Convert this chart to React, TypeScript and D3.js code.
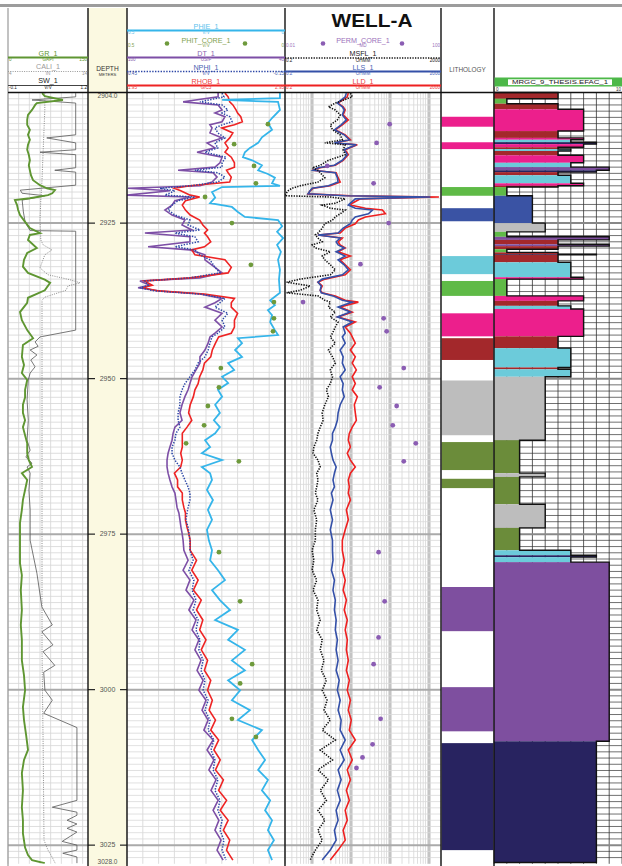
import React from 'react';
import * as d3 from 'd3';

// ---- log values ----
const GR: [number, number][] = [
  [2904.1, 64], [2904.6, 69], [2905.2, 103], [2905.7, 54], [2906.0, 51], [2906.8, 45], [2907.6, 37.5], [2908.4, 36],
  [2909.2, 36], [2910.0, 41], [2910.8, 37.5], [2911.6, 41], [2912.4, 37.5], [2913.2, 36], [2914.0, 39], [2914.9, 41],
  [2915.7, 39], [2916.5, 41], [2917.3, 43], [2918.1, 47], [2918.9, 60], [2919.4, 73], [2919.7, 88], [2920.2, 83],
  [2920.5, 75], [2921.0, 41], [2921.3, 13], [2922.1, 17], [2922.9, 19], [2923.7, 22.5], [2924.8, 32], [2925.8, 41],
  [2926.6, 60], [2926.9, 41], [2927.7, 37.5], [2929.0, 54], [2929.8, 36], [2930.9, 30], [2932.0, 28], [2933.0, 37.5],
  [2934.1, 69], [2934.6, 79], [2935.8, 69], [2937.0, 37.5], [2937.8, 36], [2939.3, 22.5], [2940.6, 26], [2942.2, 36],
  [2943.5, 47], [2944.6, 28], [2946.5, 26], [2947.8, 30], [2949.1, 26], [2950.2, 36], [2951.8, 32], [2953.0, 32],
  [2954.2, 28], [2955.5, 28], [2956.7, 32], [2957.8, 28], [2959.1, 32], [2960.4, 36], [2962.0, 36], [2963.1, 39],
  [2964.2, 45], [2965.2, 26], [2966.3, 36], [2967.9, 32], [2969.5, 28], [2971.1, 26], [2973.2, 22.5], [2976.0, 22.5],
  [2979.7, 22.5], [2981.6, 26], [2984.0, 24], [2987.2, 26], [2989.6, 24], [2992.0, 26], [2995.3, 26], [2997.7, 30],
  [3000.1, 32], [3002.8, 28], [3004.9, 30], [3007.3, 34], [3009.7, 37.5], [3011.3, 30], [3013.4, 26], [3016.2, 28],
  [3018.9, 26], [3021.0, 28], [3023.1, 28], [3025.4, 32], [3026.6, 37.5], [3027.4, 45], [3027.9, 69],
];

const CALI: [number, number][] = [
  [2904.1, 8.6], [2906.8, 8.6], [2910.0, 8.5], [2913.2, 8.4], [2918.1, 8.25], [2921.3, 8.1], [2924.5, 8.0],
  [2927.7, 8.1], [2928.5, 8.4], [2929.3, 9.5], [2930.1, 8.6], [2932.2, 8.0], [2933.3, 9.0], [2934.1, 11.75],
  [2934.6, 13.0], [2935.1, 11.5], [2935.8, 11.25], [2936.9, 8.6], [2937.4, 8.25], [2945.4, 8.25], [2961.5, 8.25],
  [2977.6, 8.25], [2993.6, 8.25], [3009.7, 8.4], [3024.2, 8.5], [3025.8, 9.0], [3026.9, 9.5], [3027.9, 9.9],
];

const SW: [number, number][] = [
  [2904.1, 1.0], [2904.7, 1.0], [2905.2, 0.29], [2905.7, 1.0], [2910.8, 1.0], [2911.3, 0.53], [2912.1, 1.0],
  [2913.2, 1.0], [2913.6, 0.42], [2914.0, 1.0], [2916.1, 1.0], [2916.5, 0.66], [2916.8, 1.0], [2918.9, 1.0],
  [2919.7, 0.10], [2920.2, 0.13], [2920.6, 0.50], [2921.3, 0.13], [2923.2, 0.15], [2924.9, 0.18], [2926.2, 0.26],
  [2926.3, 1.0], [2942.2, 1.0], [2943.3, 0.42], [2944.1, 0.34], [2944.8, 0.39], [2945.4, 0.26], [2946.2, 0.37],
  [2947.0, 0.27], [2948.1, 0.34], [2949.1, 0.26], [2950.2, 0.23], [2953.4, 0.21], [2956.7, 0.23], [2959.9, 0.21],
  [2961.5, 0.26], [2962.6, 0.19], [2963.6, 0.29], [2964.2, 0.21], [2965.2, 0.26], [2967.9, 0.24], [2971.1, 0.26],
  [2976.0, 0.26], [2981.3, 0.37], [2986.7, 0.45], [2989.6, 0.62], [2990.7, 0.45], [2992.8, 0.63], [2993.9, 0.47],
  [2996.1, 0.66], [2997.2, 0.48], [3000.1, 0.50], [3001.7, 0.62], [3003.8, 0.48], [3006.1, 1.02], [3017.8, 1.02],
  [3018.9, 0.62], [3019.7, 1.02], [3020.2, 1.02], [3021.0, 0.86], [3021.6, 1.02], [3022.3, 0.86], [3022.9, 1.02],
  [3024.4, 0.78], [3025.0, 1.02], [3025.8, 1.02], [3026.3, 0.79], [3026.9, 1.02], [3027.9, 1.02],
];

// track 2 curves share one depth list
const T2_DEPTH = [
  2904.1, 2904.7, 2905.5, 2906.0, 2906.8, 2907.3, 2907.9, 2908.7, 2909.2, 2909.7,
  2910.5, 2911.3, 2912.1, 2912.9, 2913.6, 2914.4, 2915.3, 2916.0, 2916.5, 2916.9,
  2917.6, 2918.4, 2919.0, 2919.4, 2919.8, 2920.5, 2920.8, 2921.4, 2922.1, 2922.9,
  2923.7, 2924.5, 2925.3, 2926.1, 2926.6, 2927.2, 2928.0, 2928.8, 2929.3, 2930.1,
  2930.9, 2932.1, 2933.0, 2933.8, 2934.3, 2935.0, 2935.4, 2935.9, 2936.4, 2937.1,
  2937.8, 2938.5, 2939.5, 2940.6, 2941.7, 2942.7, 2943.3, 2944.3, 2945.4, 2946.5,
  2947.5, 2948.6, 2949.7, 2950.8, 2951.8, 2952.9, 2954.2, 2955.5, 2956.7, 2957.8,
  2958.8, 2959.9, 2961.0, 2962.0, 2963.1, 2964.2, 2965.2, 2966.3, 2967.4, 2968.4,
  2969.5, 2970.7, 2971.6, 2972.7, 2973.9, 2974.8, 2976.0, 2977.6, 2979.2, 2980.8,
  2982.4, 2984.0, 2985.6, 2987.2, 2988.8, 2990.4, 2992.0, 2993.6, 2995.3, 2996.9,
  2998.5, 3000.1, 3001.7, 3003.3, 3004.9, 3006.5, 3008.1, 3009.7, 3011.3, 3012.9,
  3014.5, 3016.2, 3017.8, 3019.4, 3021.0, 3022.6, 3024.2, 3025.8, 3027.4,
];
const DT = [
  65.4, 65.4, 78.7, 65.4, 63.9, 66.6, 62.8, 63.9, 68.5, 67.7,
  68.5, 63.9, 69.6, 66.6, 73.4, 63.9, 64.7, 66.6, 80.6, 67.3,
  65.8, 67.7, 72.3, 99.6, 83.7, 100, 76.1, 81.8, 82.9, 85.6,
  82.9, 78.0, 79.1, 75.3, 93.2, 76.1, 76.1, 92.0, 76.1, 70.4,
  70.4, 66.6, 63.9, 72.3, 95.1, 91.3, 95.8, 87.5, 72.3, 63.9,
  66.6, 70.4, 63.9, 66.6, 63.9, 66.6, 68.5, 69.2, 70.4, 72.3,
  72.3, 73.8, 75.3, 76.1, 76.8, 78.0, 79.1, 79.9, 79.1, 81.8,
  82.5, 82.9, 83.7, 84.4, 84.8, 84.8, 84.4, 83.7, 82.9, 81.8,
  81.4, 81.0, 80.3, 79.9, 79.5, 79.1, 78.7, 78.4, 76.8, 78.7,
  76.1, 77.6, 74.6, 76.5, 73.8, 75.3, 72.7, 74.2, 71.9, 73.4,
  71.1, 72.7, 70.0, 71.5, 69.2, 70.8, 67.3, 69.6, 67.0, 68.9,
  66.2, 68.1, 65.4, 67.3, 65.1, 66.6, 64.3, 65.8, 63.5,
];
const NPHI = [
  0.089, 0.082, 0.173, 0.089, 0.067, 0.089, 0.059, 0.051, 0.089, 0.116,
  0.105, 0.078, 0.116, 0.105, 0.154, 0.074, 0.089, 0.089, 0.192, 0.105,
  0.078, 0.105, 0.211, 0.325, 0.268, 0.306, 0.192, 0.256, 0.279, 0.294,
  0.268, 0.211, 0.218, 0.173, 0.268, 0.192, 0.180, 0.268, 0.192, 0.173,
  0.135, 0.116, 0.097, 0.211, 0.382, 0.370, 0.401, 0.344, 0.173, 0.078,
  0.097, 0.116, 0.067, 0.089, 0.078, 0.105, 0.127, 0.135, 0.142, 0.154,
  0.180, 0.192, 0.211, 0.230, 0.241, 0.249, 0.249, 0.256, 0.256, 0.249,
  0.264, 0.268, 0.279, 0.279, 0.268, 0.249, 0.241, 0.230, 0.218, 0.211,
  0.211, 0.218, 0.222, 0.226, 0.218, 0.215, 0.211, 0.211, 0.199, 0.215,
  0.196, 0.203, 0.188, 0.199, 0.180, 0.188, 0.173, 0.177, 0.161, 0.169,
  0.154, 0.161, 0.142, 0.154, 0.135, 0.142, 0.120, 0.131, 0.116, 0.123,
  0.105, 0.116, 0.097, 0.105, 0.089, 0.097, 0.082, 0.089, 0.074,
];
const RHOB = [
  2.57, 2.59, 2.60, 2.62, 2.64, 2.65, 2.67, 2.68, 2.63, 2.55,
  2.62, 2.60, 2.57, 2.59, 2.57, 2.61, 2.63, 2.63, 2.58, 2.59,
  2.61, 2.60, 2.35, 2.25, 2.29, 2.35, 2.41, 2.32, 2.30, 2.32,
  2.35, 2.41, 2.43, 2.46, 2.44, 2.46, 2.48, 2.44, 2.36, 2.38,
  2.57, 2.61, 2.59, 2.35, 2.06, 2.11, 2.05, 2.15, 2.44, 2.63,
  2.61, 2.61, 2.65, 2.63, 2.63, 2.61, 2.53, 2.51, 2.49, 2.48,
  2.44, 2.43, 2.41, 2.40, 2.38, 2.37, 2.35, 2.34, 2.36, 2.33,
  2.30, 2.30, 2.30, 2.29, 2.30, 2.29, 2.25, 2.27, 2.27, 2.30,
  2.30, 2.31, 2.32, 2.32, 2.33, 2.34, 2.35, 2.35, 2.39, 2.36,
  2.40, 2.37, 2.42, 2.39, 2.43, 2.41, 2.45, 2.42, 2.46, 2.44,
  2.48, 2.46, 2.49, 2.47, 2.51, 2.48, 2.53, 2.50, 2.54, 2.51,
  2.56, 2.53, 2.58, 2.54, 2.59, 2.56, 2.60, 2.58, 2.62,
];

const PHIE: [number, number][] = [
  [2904.1, 0.016], [2904.9, 0.016], [2905.2, 0.199], [2905.5, 0.022], [2906.8, 0.016], [2908.1, 0.041],
  [2908.9, 0.054], [2910.0, 0.041], [2911.2, 0.073], [2912.1, 0.085], [2912.9, 0.111], [2913.6, 0.127],
  [2914.4, 0.133], [2914.9, 0.104], [2915.7, 0.073], [2916.5, 0.085], [2917.1, 0.054], [2917.7, 0.032],
  [2918.6, 0.041], [2919.0, 0.016], [2919.2, 0.199], [2920.0, 0.231], [2920.9, 0.221], [2921.8, 0.237],
  [2922.4, 0.168], [2923.2, 0.149], [2924.0, 0.127], [2924.5, 0.022], [2925.5, 0.009], [2926.4, 0.025],
  [2927.4, 0.006], [2928.5, 0.025], [2929.6, 0.013], [2930.9, 0.022], [2932.5, 0.016], [2934.1, 0.019],
  [2936.2, 0.016], [2937.4, 0.047], [2938.2, 0.032], [2939.0, 0.054], [2939.8, 0.041], [2940.9, 0.047],
  [2942.2, 0.032], [2943.0, 0.022], [2943.5, 0.149], [2944.3, 0.136], [2945.4, 0.158], [2946.5, 0.136],
  [2947.5, 0.180], [2948.6, 0.161], [2949.7, 0.199], [2950.7, 0.180], [2951.8, 0.212], [2952.9, 0.199],
  [2954.2, 0.221], [2955.5, 0.206], [2956.7, 0.225], [2957.8, 0.206], [2958.8, 0.221], [2959.9, 0.253],
  [2961.0, 0.237], [2962.0, 0.263], [2963.1, 0.199], [2964.2, 0.263], [2965.2, 0.237], [2966.3, 0.231],
  [2967.9, 0.247], [2969.5, 0.228], [2971.1, 0.244], [2972.7, 0.231], [2974.3, 0.247], [2976.0, 0.241],
  [2977.6, 0.231], [2979.2, 0.237], [2980.8, 0.212], [2982.4, 0.190], [2984.0, 0.231], [2985.6, 0.206],
  [2987.2, 0.174], [2988.8, 0.221], [2990.4, 0.149], [2992.0, 0.180], [2993.6, 0.127], [2995.3, 0.168],
  [2996.9, 0.127], [2998.5, 0.180], [3000.1, 0.142], [3001.7, 0.168], [3003.3, 0.111], [3004.9, 0.149],
  [3006.5, 0.073], [3008.1, 0.104], [3009.7, 0.085], [3011.3, 0.063], [3012.9, 0.085], [3014.5, 0.054],
  [3016.2, 0.073], [3017.8, 0.047], [3019.4, 0.063], [3021.0, 0.041], [3022.6, 0.054], [3024.2, 0.035],
  [3025.8, 0.054], [3027.4, 0.041],
];

const PHIT_CORE: [number, number][] = [
  [2909.1, 0.054], [2912.3, 0.161], [2915.8, 0.098], [2918.6, 0.092], [2920.8, 0.253], [2925.0, 0.168],
  [2931.7, 0.108], [2937.7, 0.035], [2940.3, 0.035], [2942.4, 0.038], [2948.3, 0.203], [2951.4, 0.209],
  [2954.4, 0.244], [2957.5, 0.256], [2960.4, 0.313], [2963.3, 0.146], [2977.9, 0.209], [2985.8, 0.142],
  [2995.9, 0.104], [2999.0, 0.142], [3004.7, 0.168], [3007.6, 0.092],
];

// track 3 resistivity curves share one depth list
const T3_DEPTH = [
  2904.1, 2904.7, 2905.7, 2906.3, 2906.8, 2907.6, 2908.4, 2909.2, 2910.0, 2910.8,
  2911.6, 2912.1, 2912.4, 2913.2, 2914.0, 2914.9, 2915.7, 2916.1, 2916.5, 2916.9,
  2917.7, 2918.4, 2919.0, 2919.4, 2919.8, 2920.3, 2920.6, 2920.8, 2921.1, 2921.8,
  2922.1, 2922.6, 2922.9, 2923.5, 2924.0, 2924.5, 2925.1, 2925.8, 2926.6, 2926.9,
  2927.4, 2928.0, 2928.5, 2929.0, 2929.6, 2930.3, 2930.9, 2931.7, 2932.5, 2933.3,
  2934.0, 2934.5, 2935.1, 2935.8, 2936.2, 2936.7, 2937.4, 2937.7, 2938.5, 2939.3,
  2940.1, 2940.9, 2941.7, 2942.7, 2943.3, 2944.3, 2945.4, 2946.5, 2947.5, 2948.6,
  2949.7, 2950.8, 2951.8, 2952.9, 2954.2, 2955.5, 2956.7, 2957.8, 2958.8, 2959.9,
  2961.0, 2962.0, 2963.1, 2964.2, 2965.2, 2966.3, 2967.4, 2968.4, 2969.5, 2971.1,
  2972.7, 2974.3, 2976.0, 2977.6, 2979.2, 2980.8, 2982.4, 2984.0, 2985.6, 2987.2,
  2988.8, 2990.4, 2992.0, 2993.6, 2995.3, 2996.9, 2998.5, 3000.1, 3001.7, 3003.3,
  3004.9, 3006.5, 3008.1, 3009.7, 3011.3, 3012.9, 3014.5, 3016.2, 3017.8, 3019.4,
  3021.0, 3022.6, 3024.2, 3025.8, 3027.4,
];
const LLD = [
  8.4, 7.9, 4.6, 6.2, 7.0, 6.2, 8.4, 5.9, 3.9, 7.0,
  9.5, 3.9, 14.3, 7.0, 8.4, 6.2, 3.9, 1.6, 1.0, 4.1,
  4.6, 5.2, 2.9, 1.05, 0.88, 0.78, 9.5, 1770, 17.1, 10.6,
  9.5, 23.1, 63, 75, 23.1, 15.2, 12.7, 7.0, 5.2, 1.4,
  5.9, 4.6, 5.2, 7.0, 4.6, 9.5, 5.2, 7.0, 9.5, 7.0,
  2.1, 1.4, 1.8, 1.6, 1.8, 3.9, 7.0, 15.2, 5.2, 10.6,
  4.6, 12.7, 7.0, 9.5, 10.6, 12.7, 9.5, 12.7, 10.6, 13.5,
  10.6, 12.7, 10.6, 14.3, 12.0, 12.7, 13.5, 10.6, 8.9, 8.4,
  9.5, 7.9, 9.5, 12.7, 9.5, 8.4, 8.9, 8.4, 9.5, 7.5,
  8.4, 7.0, 5.9, 5.9, 6.6, 5.9, 7.0, 6.2, 7.5, 6.6,
  7.9, 7.0, 7.9, 7.5, 8.4, 7.5, 8.9, 7.9, 9.5, 8.4,
  10.0, 8.9, 12.7, 8.4, 10.6, 7.9, 9.5, 7.5, 8.9, 7.0,
  7.9, 6.2, 7.0, 4.6, 2.9,
];
const LLS = [
  7.5, 7.0, 4.4, 5.9, 6.6, 5.9, 7.5, 5.5, 3.7, 6.6,
  8.9, 3.7, 13.5, 6.6, 7.9, 5.9, 3.7, 1.4, 1.05, 3.9,
  4.4, 4.6, 2.6, 1.0, 0.88, 0.78, 7.0, 1070, 12.7, 9.5,
  8.4, 12.7, 35, 27.5, 12.7, 10.6, 9.5, 6.2, 4.6, 1.4,
  5.2, 4.1, 4.6, 6.6, 4.1, 7.0, 4.6, 6.6, 8.4, 5.9,
  1.8, 1.4, 1.7, 1.6, 1.7, 3.4, 5.9, 10.6, 4.6, 9.5,
  4.4, 10.6, 6.2, 7.0, 5.9, 7.0, 5.2, 6.2, 5.9, 7.0,
  5.2, 6.2, 5.9, 6.6, 5.2, 4.6, 4.4, 3.9, 3.3, 3.3,
  2.9, 3.1, 3.4, 4.1, 3.7, 3.4, 3.7, 3.1, 3.4, 2.9,
  3.3, 2.9, 3.3, 3.3, 3.4, 3.1, 3.7, 3.4, 3.9, 3.7,
  4.1, 3.9, 4.4, 4.1, 4.6, 4.1, 4.9, 4.4, 5.2, 4.6,
  5.5, 5.2, 7.0, 5.2, 6.6, 4.6, 5.5, 4.4, 5.2, 4.1,
  4.6, 3.7, 4.1, 2.9, 1.8,
];
const MSFL = [
  9.5, 10.6, 3.9, 2.6, 3.9, 5.2, 4.4, 2.9, 3.3, 5.2,
  5.9, 2.1, 7.0, 6.2, 7.0, 2.6, 1.6, 1.0, 1.4, 1.6,
  2.1, 1.4, 0.49, 0.30, 0.24, 0.21, 0.20, 2.9, 7.0, 3.9,
  1.8, 2.9, 7.0, 5.2, 3.9, 3.3, 2.1, 1.8, 1.4, 1.2,
  1.4, 1.8, 1.0, 1.2, 2.9, 1.8, 2.1, 2.9, 3.9, 2.9,
  0.49, 0.22, 0.88, 0.49, 0.22, 1.4, 2.1, 2.9, 2.6, 3.9,
  2.9, 4.6, 3.9, 3.3, 2.9, 3.9, 2.6, 3.3, 3.9, 2.9,
  3.3, 2.9, 2.3, 2.6, 2.1, 1.8, 1.9, 1.6, 1.4, 1.3,
  1.1, 1.05, 1.4, 1.6, 1.3, 1.4, 1.3, 1.2, 1.4, 1.1,
  1.3, 1.2, 1.2, 0.99, 1.1, 0.99, 1.3, 1.05, 1.4, 1.3,
  1.6, 1.3, 1.8, 1.6, 2.0, 1.7, 2.3, 1.8, 2.4, 2.0,
  2.9, 1.8, 3.9, 1.6, 3.3, 1.4, 2.6, 1.6, 2.3, 1.4,
  2.1, 1.4, 1.8, 1.2, 0.88,
];

const PERM_CORE: [number, number][] = [
  [2909.1, 4.83], [2912.1, 2.23], [2915.8, 0.121], [2918.6, 1.87], [2925.0, 4.55], [2931.6, 0.86],
  [2937.7, 0.029], [2940.3, 3.38], [2942.4, 4.04], [2948.3, 11.1], [2951.4, 2.67], [2954.4, 7.3],
  [2957.5, 5.8], [2960.4, 22.6], [2963.3, 11.1], [2977.9, 2.51], [2985.8, 3.59], [2991.6, 2.51],
  [2995.9, 1.87], [3004.7, 2.83], [3008.8, 1.76], [3010.9, 0.97], [3012.6, 0.68],
];

// [top, base, facies code]
const LITHOLOGY: [number, number, number][] = [
  [2907.9, 2909.5, 7], [2912.0, 2913.1, 7], [2919.2, 2920.6, 1], [2922.6, 2924.7, 3], [2930.3, 2933.2, 6],
  [2934.3, 2936.7, 1], [2939.5, 2943.2, 7], [2943.5, 2947.0, 5], [2950.3, 2959.1, 4], [2960.2, 2964.7, 2],
  [2966.1, 2967.6, 2], [2983.5, 2990.6, 9], [2999.6, 3006.7, 9], [3008.6, 3025.8, 8],
];

const FACIES: [number, number, number][] = [
  [2904.0, 2905.0, 5], [2905.0, 2905.8, 1], [2905.8, 2906.7, 5], [2906.7, 2910.2, 7], [2910.2, 2911.3, 5],
  [2911.3, 2911.6, 7], [2911.6, 2912.0, 6], [2912.0, 2912.3, 8], [2912.3, 2912.8, 7], [2912.8, 2913.1, 5],
  [2913.1, 2913.4, 6], [2913.4, 2914.1, 5], [2914.1, 2915.3, 7], [2915.3, 2916.0, 6], [2916.0, 2916.5, 9],
  [2916.5, 2916.8, 8], [2916.8, 2917.3, 5], [2917.3, 2918.6, 6], [2918.6, 2919.0, 7], [2919.0, 2919.2, 5],
  [2919.2, 2920.6, 1], [2920.6, 2925.0, 3], [2925.0, 2926.4, 4], [2926.4, 2927.2, 1], [2927.2, 2927.7, 9],
  [2927.7, 2928.4, 5], [2928.4, 2928.7, 9], [2928.7, 2929.2, 5], [2929.2, 2929.7, 1], [2929.7, 2930.0, 5],
  [2930.0, 2930.1, 8], [2930.1, 2931.3, 5], [2931.3, 2933.7, 6], [2933.7, 2934.0, 7], [2934.0, 2936.7, 1],
  [2936.7, 2937.5, 7], [2937.5, 2938.3, 5], [2938.3, 2938.8, 6], [2938.8, 2943.2, 7], [2943.2, 2945.1, 5],
  [2945.1, 2948.2, 6], [2948.2, 2948.5, 5], [2948.5, 2949.7, 6], [2949.7, 2959.9, 4], [2959.9, 2965.2, 2],
  [2965.2, 2965.8, 4], [2965.8, 2970.2, 2], [2970.2, 2974.0, 4], [2974.0, 2977.6, 2], [2977.6, 2978.4, 6],
  [2978.4, 2978.7, 8], [2978.7, 2979.5, 6], [2979.5, 3008.3, 9], [3008.3, 3027.8, 8],
];

const FACIES_COLORS: Record<number, string> = {
  1: '#5fba47', 2: '#6b8c3a', 3: '#3a53a4', 4: '#bdbdbd', 5: '#a3282b',
  6: '#6ccbda', 7: '#ec1f8c', 8: '#282360', 9: '#7e4f9f',
};

const DEPTH_LABELS = [2925, 2950, 2975, 3000, 3025];

const FONT = 'Liberation Sans, Arial, sans-serif';

function CurveHeader({ x0, x1, name, color, textColor, yName, yLine, width, dash, left, unit, right, dots }: any) {
  const cx = (x0 + x1) / 2;
  const ys = yLine + 3.6;
  return (
    <g fontFamily={FONT}>
      <text x={cx} y={yName} fontSize={7.2} textAnchor="middle" fill={textColor || color}>{name}</text>
      {dots ? (
        dots.map((dx: number, i: number) => <circle key={i} cx={dx} cy={yLine} r={2.3} fill={color} />)
      ) : (
        <line x1={x0} x2={x1} y1={yLine} y2={yLine} stroke={color} strokeWidth={width} strokeDasharray={dash} />
      )}
      <text x={x0 + 1} y={ys} fontSize={4.6} fill={textColor || color}>{left}</text>
      <text x={cx} y={ys} fontSize={4.6} textAnchor="middle" fill={textColor || color}>{unit}</text>
      <text x={x1 - 1} y={ys} fontSize={4.6} textAnchor="end" fill={textColor || color}>{right}</text>
    </g>
  );
}

export default function App() {
  const W = 622;
  const H = 866;
  const top = 92.5;
  const bot = 863.8;
  const y = d3.scaleLinear().domain([2904, 3028]).range([top, bot]);

  const grX = d3.scaleLinear().domain([0, 150]).range([8, 88]);
  const caliX = d3.scaleLinear().domain([4, 14]).range([8, 88]);
  const swX = d3.scaleLinear().domain([-0.1, 1.2]).range([8, 88]);
  const phiX = d3.scaleLinear().domain([0.5, 0]).range([127, 285]);
  const dtX = d3.scaleLinear().domain([100, 40]).range([127, 285]);
  const nphiX = d3.scaleLinear().domain([0.45, -0.15]).range([127, 285]);
  const rhobX = d3.scaleLinear().domain([1.95, 2.95]).range([127, 285]);
  const resX = d3.scaleLog().domain([0.2, 2000]).range([285, 441]);
  const permX = d3.scaleLog().domain([0.01, 100]).range([285, 441]);
  const facX = d3.scaleLinear().domain([0, 10]).range([494, 622]);

  const path = (pts: [number, number][], sx: any) =>
    d3.line<[number, number]>().x(d => sx(d[1])).y(d => y(d[0]))(pts) || '';
  const zip = (depths: number[], vals: number[]) => depths.map((d, i) => [d, vals[i]] as [number, number]);

  const minorDepths = d3.range(2905, 3028).filter(d => d % 25 !== 0);

  const hLines = (x0: number, x1: number, color: string, w: number) =>
    minorDepths.map(d => <line key={'h' + x0 + d} x1={x0} x2={x1} y1={y(d)} y2={y(d)} stroke={color} strokeWidth={w} />);
  const majorLines = (x0: number, x1: number, color: string) =>
    DEPTH_LABELS.map(d => <line key={'m' + x0 + d} x1={x0} x2={x1} y1={y(d)} y2={y(d)} stroke={color} strokeWidth={2} />);

  // facies outline
  const facPts: [number, number][] = [[facX(0), y(FACIES[0][0])]];
  FACIES.forEach(([t, b, c]) => {
    facPts.push([facX(c), y(t)]);
    facPts.push([facX(c), y(b)]);
  });
  facPts.push([facX(0), y(FACIES[FACIES.length - 1][1])]);
  const facOutline = d3.line()(facPts) || '';

  const borders = [88, 127, 285, 441, 494];

  return (
    <div style={{ position: 'absolute', left: 0, top: 0 }}>
      <svg width={W} height={H} style={{ display: 'block', background: '#fff' }}>
        <defs>
          <clipPath id="c1"><rect x={8} y={top} width={80} height={bot - top} /></clipPath>
          <clipPath id="c2"><rect x={127} y={top} width={158} height={bot - top} /></clipPath>
          <clipPath id="c3"><rect x={285} y={top} width={156} height={bot - top} /></clipPath>
        </defs>

        {/* depth track background */}
        <rect x={88} y={8} width={39} height={H - 8} fill="#fbf9e1" />

        {/* ---- grids ---- */}
        <g>
          {grX.ticks(10).map(v => (
            <line key={'g1' + v} x1={grX(v)} x2={grX(v)} y1={top} y2={bot} stroke="#d4d4d4" strokeWidth={0.8} />
          ))}
          {hLines(8, 88, '#d6d6d6', 0.8)}
          {phiX.ticks(10).map(v => (
            <line key={'g2' + v} x1={phiX(v)} x2={phiX(v)} y1={top} y2={bot} stroke="#d4d4d4" strokeWidth={0.8} />
          ))}
          {hLines(127, 285, '#d9d9d9', 0.8)}
          {resX.ticks().map(v => (
            <line key={'g3' + v} x1={resX(v)} x2={resX(v)} y1={top} y2={bot} stroke="#d6d6d6" strokeWidth={0.8} />
          ))}
          {[1, 10, 100, 1000].map(v => (
            <line key={'gd' + v} x1={resX(v)} x2={resX(v)} y1={top} y2={bot} stroke="#c4c4c4" strokeWidth={2.6} />
          ))}
          {hLines(285, 441, '#d9d9d9', 0.8)}
          {facX.ticks(10).map(v => (
            <line key={'g6' + v} x1={facX(v)} x2={facX(v)} y1={top} y2={bot} stroke="#333" strokeWidth={0.8} />
          ))}
          {hLines(494, 622, '#333', 0.7)}
          {majorLines(8, 88, '#aaa')}
          {majorLines(127, 441, '#aaa')}
          {majorLines(494, 622, '#888')}
        </g>

        {/* ---- track 1 ---- */}
        <g clipPath="url(#c1)" fill="none">
          <path d={path(SW, swX)} stroke="#555" strokeWidth={0.8} />
          <path d={path(CALI, caliX)} stroke="#8a8a8a" strokeWidth={1} strokeDasharray="1 1.3" />
          <path d={path(GR, grX)} stroke="#5f9632" strokeWidth={1.9} />
        </g>

        {/* ---- track 2 ---- */}
        <g clipPath="url(#c2)" fill="none">
          <path d={path(zip(T2_DEPTH, DT), dtX)} stroke="#7d4fa6" strokeWidth={1.6} />
          <path d={path(zip(T2_DEPTH, RHOB), rhobX)} stroke="#ee2424" strokeWidth={1.6} />
          <path d={path(zip(T2_DEPTH, NPHI), nphiX)} stroke="#2c46a6" strokeWidth={1.5} strokeDasharray="1.4 1.4" />
          <path d={path(PHIE, phiX)} stroke="#35b5ea" strokeWidth={1.8} />
          {PHIT_CORE.map(([d, v], i) => (
            <circle key={i} cx={phiX(v)} cy={y(d)} r={2.4} fill="#6e9a3c" />
          ))}
        </g>

        {/* ---- track 3 ---- */}
        <g clipPath="url(#c3)" fill="none">
          <path d={path(zip(T3_DEPTH, LLD), resX)} stroke="#ee2020" strokeWidth={1.6} />
          <path d={path(zip(T3_DEPTH, LLS), resX)} stroke="#3450a8" strokeWidth={1.6} />
          <path d={path(zip(T3_DEPTH, MSFL), resX)} stroke="#111" strokeWidth={1.6} strokeDasharray="1.3 1.3" />
          {PERM_CORE.map(([d, v], i) => (
            <circle key={i} cx={permX(v)} cy={y(d)} r={2.4} fill="#8b5db3" />
          ))}
        </g>

        {/* ---- lithology ---- */}
        {LITHOLOGY.map(([t, b, c], i) => (
          <rect key={i} x={441.5} y={y(t)} width={52} height={y(b) - y(t)} fill={FACIES_COLORS[c]} />
        ))}

        {/* ---- facies ---- */}
        {FACIES.map(([t, b, c], i) => (
          <rect key={i} x={facX(0)} y={y(t)} width={facX(c) - facX(0)} height={y(b) - y(t)} fill={FACIES_COLORS[c]} />
        ))}
        <path d={facOutline} fill="none" stroke="#111" strokeWidth={1.4} />

        {/* ---- depth labels ---- */}
        <g fontFamily={FONT} fill="#555">
          {DEPTH_LABELS.map(d => (
            <g key={d}>
              <line x1={88} x2={95} y1={y(d)} y2={y(d)} stroke="#222" strokeWidth={1.2} />
              <line x1={120} x2={127} y1={y(d)} y2={y(d)} stroke="#222" strokeWidth={1.2} />
              <text x={107.5} y={y(d) + 2.3} fontSize={7} textAnchor="middle">{d}</text>
            </g>
          ))}
          <text x={107.5} y={98} fontSize={6.5} textAnchor="middle">2904.0</text>
          <text x={107.5} y={864} fontSize={6.5} textAnchor="middle">3028.0</text>
        </g>

        {/* ---- frame ---- */}
        <rect x={0} y={4} width={W} height={3} fill="#9c9c9c" />
        <line x1={8} x2={8} y1={8} y2={H} stroke="#999" strokeWidth={1.2} />
        {borders.map(x => (
          <line key={x} x1={x} x2={x} y1={8} y2={H} stroke="#111" strokeWidth={1.4} />
        ))}
        <line x1={8} x2={W} y1={top} y2={top} stroke="#111" strokeWidth={1.5} />

        {/* ---- headers ---- */}
        <CurveHeader x0={8} x1={88} name="GR_1" color="#5f9632" yName={55.5} yLine={57.5} width={1.8}
          left="0" unit="GAPI" right="150" />
        <CurveHeader x0={8} x1={88} name="CALI_1" color="#999" yName={69} yLine={71.5} width={1.2} dash="1 1.3"
          left="4" unit="IN" right="14" />
        <CurveHeader x0={8} x1={88} name="SW_1" color="#444" textColor="#222" yName={83} yLine={85.5} width={1}
          left="-0.1" unit="V/V" right="1.2" />

        <g fontFamily={FONT} fill="#333" textAnchor="middle">
          <text x={107.5} y={71} fontSize={6.6}>DEPTH</text>
          <text x={107.5} y={76} fontSize={4.2}>METERS</text>
        </g>

        <CurveHeader x0={127} x1={285} name="PHIE_1" color="#35b5ea" textColor="#5cc2ec" yName={28.5} yLine={30.5}
          width={1.8} left="0.5" unit="V/V" right="0" />
        <CurveHeader x0={127} x1={285} name="PHIT_CORE_1" color="#6e9a3c" textColor="#7f9f50" yName={42.5} yLine={43.5}
          dots={[167, 245]} left="0.5" unit="V/V" right="0" />
        <CurveHeader x0={127} x1={285} name="DT_1" color="#7d4fa6" textColor="#8b62b0" yName={55.5} yLine={57.5}
          width={1.8} left="100" unit="US/F" right="40" />
        <CurveHeader x0={127} x1={285} name="NPHI_1" color="#2c46a6" textColor="#4a5fb0" yName={69.5} yLine={71.5}
          width={1.5} dash="1.4 1.4" left="0.45" unit="V/V" right="-0.15" />
        <CurveHeader x0={127} x1={285} name="RHOB_1" color="#ee2424" textColor="#ee4444" yName={83.5} yLine={85.5}
          width={1.8} left="1.95" unit="G/C3" right="2.95" />

        <text x={372} y={27} fontFamily={FONT} fontWeight="bold" fontSize={18} textAnchor="middle"
          textLength={81} lengthAdjust="spacingAndGlyphs" fill="#111">WELL-A</text>
        <CurveHeader x0={285} x1={441} name="PERM_CORE_1" color="#8b5db3" textColor="#9a70bb" yName={42.5} yLine={43.5}
          dots={[323, 402]} left="0.01" unit="MD" right="100" />
        <CurveHeader x0={285} x1={441} name="MSFL_1" color="#111" textColor="#222" yName={55.5} yLine={58}
          width={1.6} dash="1.3 1.3" left="0.2" unit="OHMM" right="2000" />
        <CurveHeader x0={285} x1={441} name="LLS_1" color="#3450a8" textColor="#4a66b6" yName={69.5} yLine={71.5}
          width={1.8} left="0.2" unit="OHMM" right="2000" />
        <CurveHeader x0={285} x1={441} name="LLD_1" color="#ee2020" textColor="#ee4040" yName={83.5} yLine={85.5}
          width={1.8} left="0.2" unit="OHMM" right="2000" />

        <text x={467.5} y={72} fontFamily={FONT} fontSize={6.4} textAnchor="middle" fill="#555">LITHOLOGY</text>

        <rect x={494.5} y={77.5} width={127.5} height={9} fill="#4cb848" />
        <rect x={508} y={79.3} width={104} height={5.8} fill="#fff" />
        <text x={560} y={84.4} fontFamily={FONT} fontSize={5.6} textAnchor="middle" fill="#222"
          textLength={96} lengthAdjust="spacingAndGlyphs">MRGC_9_THESIS.EFAC_1</text>
        <text x={496} y={91.2} fontFamily={FONT} fontSize={4.6} fill="#333">0</text>
        <text x={621} y={91.2} fontFamily={FONT} fontSize={4.6} textAnchor="end" fill="#333">10</text>
      </svg>
    </div>
  );
}
